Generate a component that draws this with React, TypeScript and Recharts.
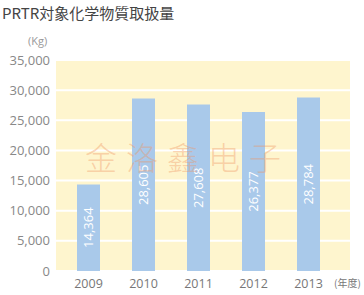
import { BarChart, Bar, XAxis, YAxis, CartesianGrid, LabelList } from 'recharts';

// PRTR handled amount per fiscal year (Kg)
const years = ['2009', '2010', '2011', '2012', '2013'];
const amounts = [14364, 28605, 27608, 26377, 28784];
const yTicks = [0, 5000, 10000, 15000, 20000, 25000, 30000, 35000];

const chartData = years.map((year, i) => ({ year, amount: amounts[i] }));

const fmt = (v: number) => v.toLocaleString('en-US');

// value label written vertically in the middle of each bar
const renderBarLabel = (props: any) => {
  const { x, y, width, height, value } = props;
  const cx = Number(x) + Number(width) / 2;
  const cy = Number(y) + Number(height) / 2;
  return (
    <text
      x={cx}
      y={cy}
      transform={`rotate(-90 ${cx} ${cy})`}
      textAnchor="middle"
      dominantBaseline="central"
      fill="#ffffff"
      fontSize={13}
      fontFamily="'Open Sans', sans-serif"
    >
      {fmt(Number(value))}
    </text>
  );
};

export default function App() {
  return (
    <div style={{ position: 'absolute', left: 0, top: 0, width: 364, height: 295, background: '#fff' }}>
      <div
        style={{
          position: 'absolute', left: 2, top: 2, fontSize: 15, color: '#444',
          fontFamily: "'Noto Sans CJK JP', 'Noto Sans', sans-serif", whiteSpace: 'nowrap',
        }}
      >
        PRTR対象化学物質取扱量
      </div>
      <div
        style={{
          position: 'absolute', left: 28, top: 33, fontSize: 11, color: '#999',
          fontFamily: "'Open Sans', sans-serif",
        }}
      >
        (Kg)
      </div>
      <BarChart width={364} height={295} data={chartData} margin={{ top: 60, right: 14, bottom: 0, left: 0 }}>
        <CartesianGrid vertical={false} stroke="#ffffff" strokeWidth={2} fill="#FEF5CE" fillOpacity={1} />
        <XAxis
          dataKey="year"
          axisLine={false}
          tickLine={false}
          height={24}
          padding={{ left: 5, right: 14 }}
          tick={{ fill: '#777', fontSize: 12.5, fontFamily: "'Open Sans', sans-serif" }}
        />
        <YAxis
          width={56}
          domain={[0, 35000]}
          ticks={yTicks}
          axisLine={false}
          tickLine={false}
          tickMargin={0}
          tickFormatter={fmt}
          tick={{ fill: '#888', fontSize: 13, fontFamily: "'Open Sans', sans-serif" }}
        />
        <Bar dataKey="amount" fill="#A9C9EA" barSize={23} isAnimationActive={false}>
          <LabelList dataKey="amount" content={renderBarLabel} />
        </Bar>
      </BarChart>
      <div
        style={{
          position: 'absolute', left: 334, top: 275, fontSize: 10, color: '#777',
          fontFamily: "'Noto Sans CJK JP', sans-serif", whiteSpace: 'nowrap',
        }}
      >
        (年度)
      </div>
      <div
        style={{
          position: 'absolute', left: 85, top: 133, fontSize: 32, letterSpacing: 9,
          color: 'rgba(240, 150, 100, 0.4)', fontFamily: "'Noto Sans CJK SC', sans-serif",
          fontWeight: 300, whiteSpace: 'nowrap', pointerEvents: 'none',
        }}
      >
        金洛鑫电子
      </div>
    </div>
  );
}
